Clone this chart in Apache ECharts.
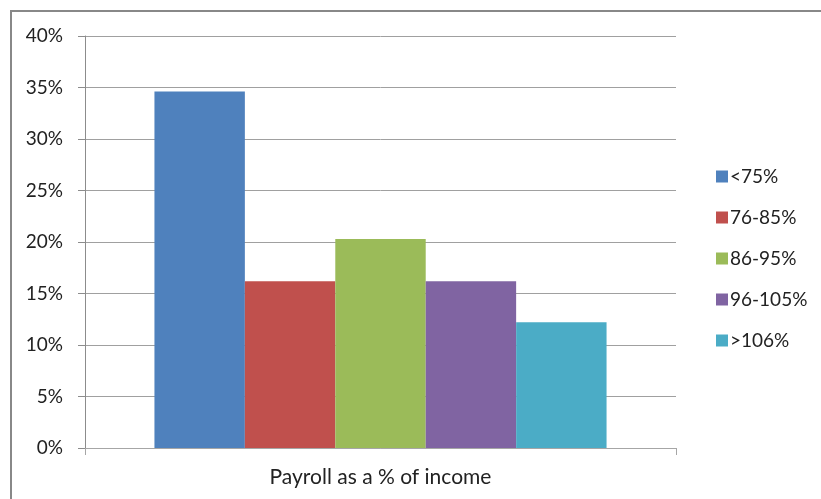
<!DOCTYPE html>
<html>
<head>
<meta charset="utf-8">
<script src="https://cdn.jsdelivr.net/npm/echarts@6/dist/echarts.min.js"></script>
<style>
  html, body { margin: 0; padding: 0; background: #fff; }
  #frame { position: absolute; left: 10px; top: 10px; width: 811px; height: 489px;
           border-top: 2px solid #888; border-left: 2px solid #888; box-sizing: border-box; }
  #chart { position: absolute; left: 0; top: 0; width: 821px; height: 499px; }
</style>
</head>
<body>
<div id="frame"></div>
<div id="chart"></div>
<script>
// payroll share buckets
const categories = ['Payroll as a % of income']
const seriesNames = ['<75%', '76-85%', '86-95%', '96-105%', '>106%']
const seriesValues = [34.6, 16.2, 20.3, 16.2, 12.2]
const seriesColors = ['#4f81bd', '#c0504d', '#9bbb59', '#8064a2', '#4bacc6']
const yTicks = [0, 5, 10, 15, 20, 25, 30, 35, 40]

const font = 'Lato, "Open Sans", sans-serif'
const chart = echarts.init(document.getElementById('chart'))

chart.setOption({
  animation: false,
  textStyle: { fontFamily: font },
  grid: { left: 85, right: 145, top: 36, bottom: 51 },
  legend: {
    orient: 'vertical',
    left: 711,
    top: 162,
    itemWidth: 12,
    itemHeight: 12,
    itemGap: 22,
    icon: 'rect',
    textStyle: { fontFamily: font, fontSize: 19, color: '#222', padding: [0, 0, 0, -3] },
    data: seriesNames,
  },
  xAxis: {
    type: 'category',
    data: categories,
    axisLine: { lineStyle: { color: '#a6a6a6', width: 1 } },
    axisTick: { show: true, length: 7, lineStyle: { color: '#a6a6a6' } },
    axisLabel: { fontFamily: font, fontSize: 21, color: '#222', margin: 19 },
  },
  yAxis: {
    type: 'value',
    min: yTicks[0],
    max: yTicks[yTicks.length - 1],
    interval: 5,
    axisLine: { show: true, lineStyle: { color: '#8c8c8c', width: 1 } },
    axisTick: { show: true, length: 7, lineStyle: { color: '#8c8c8c' } },
    axisLabel: { fontFamily: font, fontSize: 19, color: '#222', margin: 22, formatter: '{value}%' },
    splitLine: { lineStyle: { color: '#a0a0a0', width: 1 } },
  },
  series: seriesNames.map((name, i) => ({
    name,
    type: 'bar',
    data: [seriesValues[i]],
    barGap: '0%',
    barCategoryGap: '23.5%',
    itemStyle: { color: seriesColors[i] },
  })),
})
</script>
</body>
</html>
